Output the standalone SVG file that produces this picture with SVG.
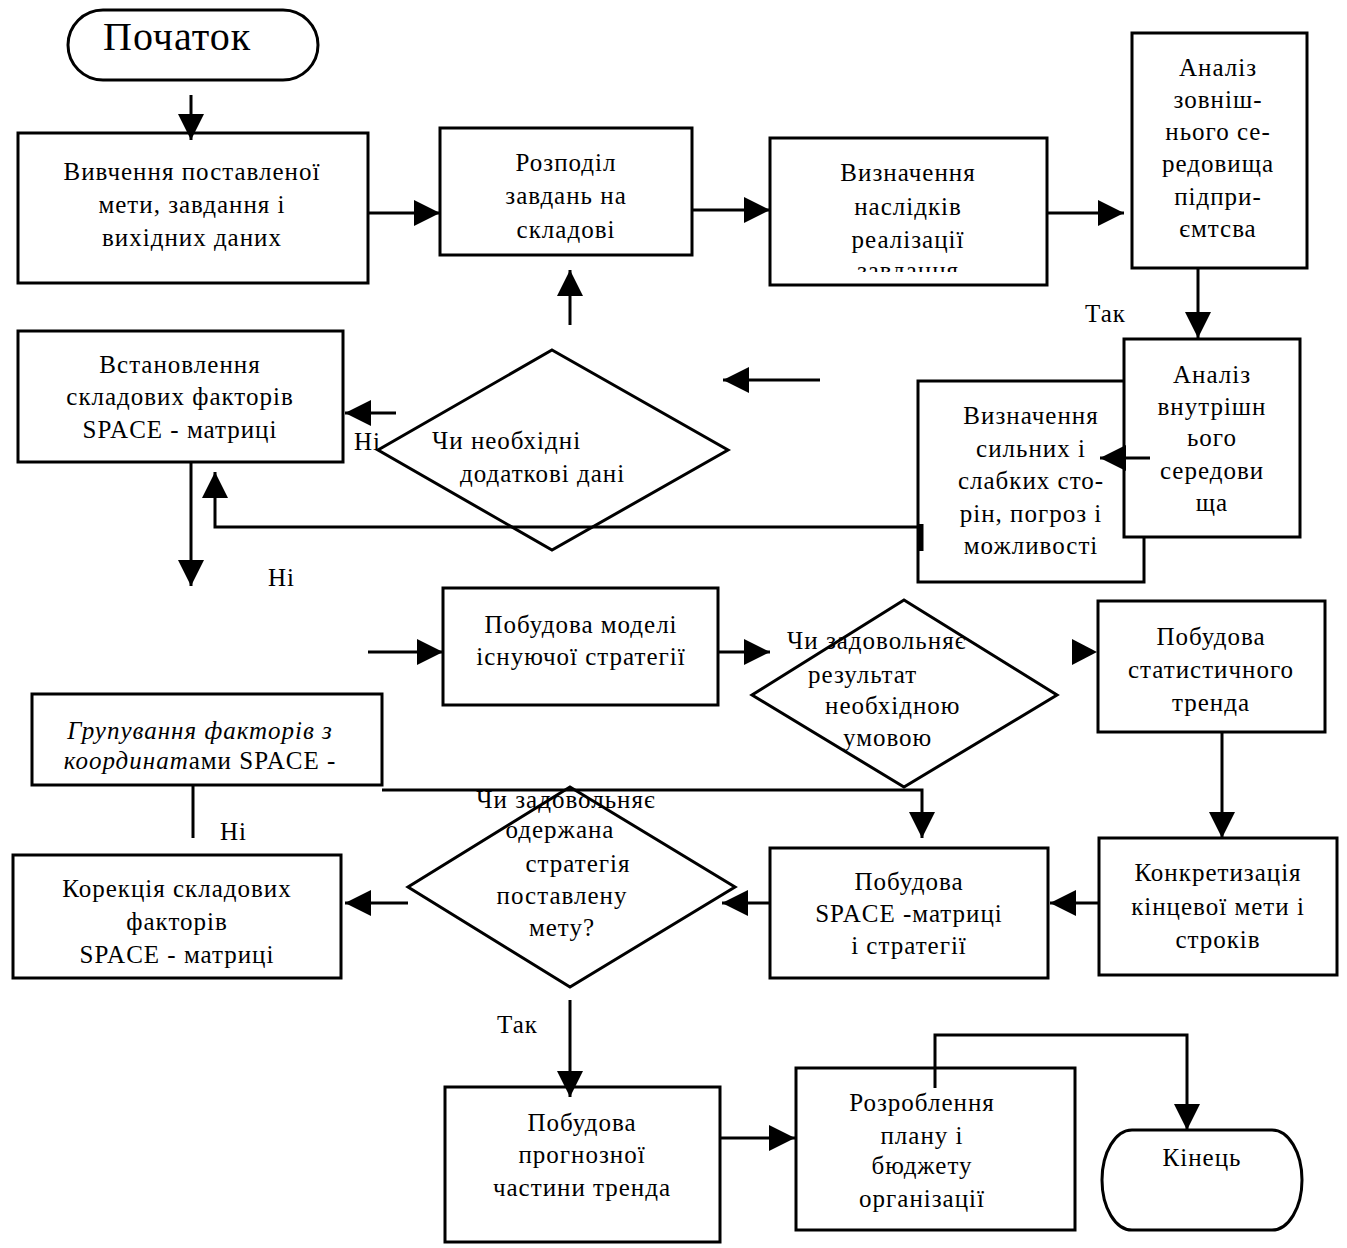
<svg xmlns="http://www.w3.org/2000/svg" width="1347" height="1248" viewBox="0 0 1347 1248" font-family="Liberation Serif, Times New Roman, serif">
<style>
.n{fill:#fff;stroke:#000;stroke-width:3}
.t{font-size:25px;letter-spacing:1px;fill:#000;text-anchor:middle}
.l{font-size:25px;letter-spacing:1px;fill:#000}
.c{fill:none;stroke:#000;stroke-width:3}
.h{fill:#000}
</style>
<defs>
<marker id="a" markerUnits="userSpaceOnUse" markerWidth="26" markerHeight="26" refX="26" refY="13" orient="auto"><path d="M0,0 L26,13 L0,26 z" fill="#000"/></marker>
<clipPath id="cp3"><rect x="770" y="138" width="277" height="134"/></clipPath>
</defs>
<g id="start">
<rect class="n" x="68" y="10" width="250" height="70" rx="35" ry="35"/>
<text class="l" x="103" y="50" style="font-size:40px">Початок</text>
</g>
<g id="box1">
<rect class="n" x="18" y="133" width="350" height="150"/>
<text class="t" x="192" y="180">Вивчення поставленої</text>
<text class="t" x="192" y="213">мети, завдання і</text>
<text class="t" x="192" y="246">вихідних даних</text>
</g>
<g id="box2">
<rect class="n" x="440" y="128" width="252" height="127"/>
<text class="t" x="566" y="171">Розподіл</text>
<text class="t" x="566" y="204">завдань на</text>
<text class="t" x="566" y="238">складові</text>
</g>
<g id="box3">
<rect class="n" x="770" y="138" width="277" height="147"/>
<g clip-path="url(#cp3)">
<text class="t" x="908" y="181">Визначення</text>
<text class="t" x="908" y="215">наслідків</text>
<text class="t" x="908" y="248">реалізації</text>
<text class="t" x="908" y="279">завдання</text>
</g>
</g>
<g id="box4">
<rect class="n" x="1132" y="33" width="175" height="235"/>
<text class="t" x="1218" y="76">Аналіз</text>
<text class="t" x="1218" y="108">зовніш-</text>
<text class="t" x="1218" y="140">нього се-</text>
<text class="t" x="1218" y="172">редовища</text>
<text class="t" x="1218" y="205">підпри-</text>
<text class="t" x="1218" y="237">ємтсва</text>
</g>
<text class="l" x="1085" y="322">Так</text>
<g id="box6">
<rect class="n" x="918" y="381" width="226" height="201"/>
<text class="t" x="1031" y="424">Визначення</text>
<text class="t" x="1031" y="457">сильних і</text>
<text class="t" x="1031" y="489">слабких  сто-</text>
<text class="t" x="1031" y="522">рін,  погроз і</text>
<text class="t" x="1031" y="554">можливості</text>
</g>
<g id="box5">
<rect class="n" x="1124" y="339" width="176" height="198"/>
<text class="t" x="1212" y="383">Аналіз</text>
<text class="t" x="1212" y="415">внутрішн</text>
<text class="t" x="1212" y="446">ього</text>
<text class="t" x="1212" y="479">середови</text>
<text class="t" x="1212" y="511">ща</text>
</g>
<g id="decision1">
<polygon class="n" points="552,350 728,450 552,550 378,450"/>
<text class="l" x="432" y="449">Чи необхідні</text>
<text class="l" x="460" y="482">додаткові дані</text>
</g>
<text class="l" x="354" y="450">Ні</text>
<g id="box7">
<rect class="n" x="18" y="331" width="325" height="131"/>
<text class="t" x="180" y="373">Встановлення</text>
<text class="t" x="180" y="405">складових факторів</text>
<text class="t" x="180" y="438">SPACE - матриці</text>
</g>
<text class="l" x="268" y="586">Ні</text>
<g id="box8">
<rect class="n" x="443" y="588" width="275" height="117"/>
<text class="t" x="581" y="633">Побудова моделі</text>
<text class="t" x="581" y="665">існуючої стратегії</text>
</g>
<g id="decision2">
<polygon class="n" points="904,600 1057,695 904,787 752,695"/>
<text class="l" x="787" y="649">Чи задовольняє</text>
<text class="l" x="808" y="683">результат</text>
<text class="l" x="825" y="714">необхідною</text>
<text class="l" x="843" y="746">умовою</text>
</g>
<g id="box9">
<rect class="n" x="1098" y="601" width="227" height="131"/>
<text class="t" x="1211" y="645">Побудова</text>
<text class="t" x="1211" y="678">статистичного</text>
<text class="t" x="1211" y="711">тренда</text>
</g>
<g id="box10">
<rect class="n" x="1099" y="838" width="238" height="137"/>
<text class="t" x="1218" y="881">Конкретизація</text>
<text class="t" x="1218" y="915">кінцевої  мети і</text>
<text class="t" x="1218" y="948">строків</text>
</g>
<g id="box11">
<rect class="n" x="770" y="848" width="278" height="130"/>
<text class="t" x="909" y="890">Побудова</text>
<text class="t" x="909" y="922">SPACE -матриці</text>
<text class="t" x="909" y="954">і стратегії</text>
</g>
<g id="box13">
<rect class="n" x="32" y="694" width="350" height="91"/>
<text class="t" x="200" y="739" font-style="italic">Групування факторів з</text>
<text class="t" x="200" y="769"><tspan font-style="italic">координат</tspan>ами SPACE  -</text>
</g>
<text class="l" x="220" y="840">Ні</text>
<g id="decision3">
<polygon class="n" points="570,787 735,887 570,987 408,887"/>
<text class="t" x="566" y="808">Чи задовольняє</text>
<text class="t" x="560" y="838">одержана</text>
<text class="t" x="578" y="872">стратегія</text>
<text class="t" x="562" y="904">поставлену</text>
<text class="t" x="562" y="936">мету?</text>
</g>
<g id="box12">
<rect class="n" x="13" y="855" width="328" height="123"/>
<text class="t" x="177" y="897">Корекція складових</text>
<text class="t" x="177" y="930">факторів</text>
<text class="t" x="177" y="963">SPACE - матриці</text>
</g>
<text class="l" x="497" y="1033">Так</text>
<g id="box14">
<rect class="n" x="445" y="1087" width="275" height="155"/>
<text class="t" x="582" y="1131">Побудова</text>
<text class="t" x="582" y="1163">прогнозної</text>
<text class="t" x="582" y="1196">частини тренда</text>
</g>
<g id="box15">
<rect class="n" x="796" y="1068" width="279" height="162"/>
<text class="t" x="922" y="1111">Розроблення</text>
<text class="t" x="922" y="1144">плану і</text>
<text class="t" x="922" y="1174">бюджету</text>
<text class="t" x="922" y="1207">організації</text>
</g>
<g id="end">
<rect class="n" x="1102" y="1130" width="200" height="100" rx="30" ry="50"/>
<text class="t" x="1202" y="1166">Кінець</text>
</g>
<g id="connectors">
<line class="c" x1="191" y1="95" x2="191" y2="140" marker-end="url(#a)"/>
<line class="c" x1="368" y1="213" x2="440" y2="213" marker-end="url(#a)"/>
<line class="c" x1="692" y1="210" x2="770" y2="210" marker-end="url(#a)"/>
<line class="c" x1="1047" y1="213" x2="1124" y2="213" marker-end="url(#a)"/>
<line class="c" x1="1198" y1="268" x2="1198" y2="338" marker-end="url(#a)"/>
<line class="c" x1="1150" y1="458" x2="1100" y2="458" marker-end="url(#a)"/>
<polyline class="c" points="918,527 215,527 215,472" marker-end="url(#a)"/>
<line x1="921" y1="524" x2="921" y2="551" stroke="#000" stroke-width="5"/>
<line class="c" x1="820" y1="380" x2="723" y2="380" marker-end="url(#a)"/>
<line class="c" x1="570" y1="325" x2="570" y2="270" marker-end="url(#a)"/>
<line class="c" x1="396" y1="413" x2="345" y2="413" marker-end="url(#a)"/>
<line class="c" x1="191" y1="462" x2="191" y2="586" marker-end="url(#a)"/>
<line class="c" x1="368" y1="652" x2="443" y2="652" marker-end="url(#a)"/>
<line class="c" x1="718" y1="652" x2="770" y2="652" marker-end="url(#a)"/>
<path class="h" d="M1072,639 L1097,652 L1072,665 z"/>
<line class="c" x1="1222" y1="732" x2="1222" y2="838" marker-end="url(#a)"/>
<line class="c" x1="1099" y1="903" x2="1050" y2="903" marker-end="url(#a)"/>
<line class="c" x1="770" y1="903" x2="722" y2="903" marker-end="url(#a)"/>
<line class="c" x1="408" y1="903" x2="345" y2="903" marker-end="url(#a)"/>
<line class="c" x1="193" y1="786" x2="193" y2="838"/>
<polyline class="c" points="382,790 922,790 922,838" marker-end="url(#a)"/>
<line class="c" x1="570" y1="1000" x2="570" y2="1097" marker-end="url(#a)"/>
<line class="c" x1="720" y1="1138" x2="795" y2="1138" marker-end="url(#a)"/>
<polyline class="c" points="935,1088 935,1035 1187,1035 1187,1130" marker-end="url(#a)"/>
</g>
</svg>
